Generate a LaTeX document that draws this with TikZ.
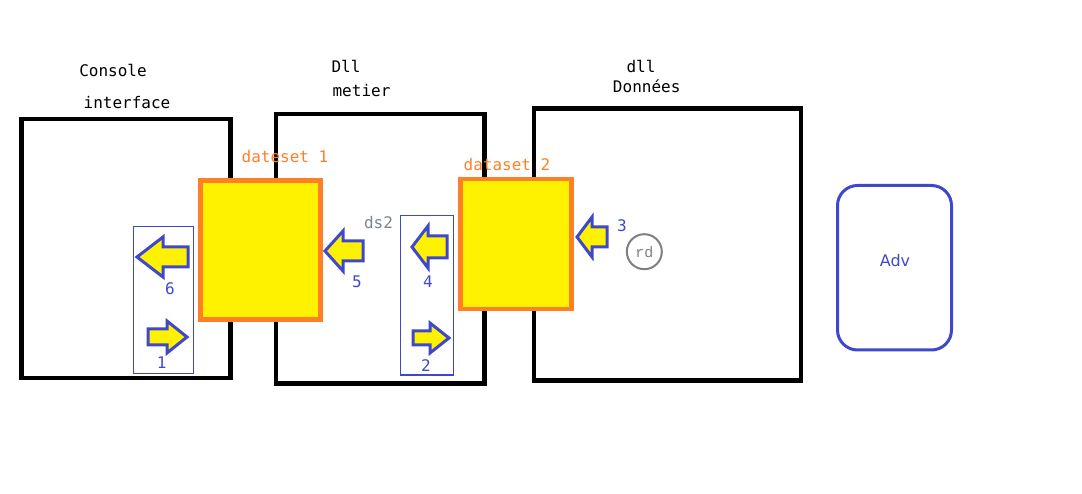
\documentclass[tikz,border=0pt]{standalone}
\usepackage{fontspec}
\setmonofont{DejaVu Sans Mono}
\setsansfont{DejaVu Sans}
\newfontfamily\rdfont{Liberation Mono}
\definecolor{pblue}{HTML}{3F48CC}
\definecolor{porange}{HTML}{FF7F27}
\definecolor{pyellow}{HTML}{FFF200}
\definecolor{pgray}{HTML}{7F7F7F}
\definecolor{dsgray}{HTML}{7A8590}
\tikzset{
  blackbox/.style={draw=black, line width=4.5pt},
  bluebox/.style={draw=pblue, line width=1pt},
  databox/.style={draw=porange, fill=pyellow, line width=4.5pt},
  blockarrow/.style={draw=pblue, fill=pyellow, line width=3pt, line join=miter},
  lbl/.style={font=\fontsize{16}{18}\selectfont\ttfamily, anchor=base, inner sep=0pt},
  numlbl/.style={lbl, text=pblue},
  advbox/.style={draw=pblue, line width=3pt, rounded corners=20pt},
}
% \blockarr{name}{tipx}{headbasex}{tailx}{y}{halfhead}{halfshaft}
\newcommand\blockarr[7]{%
  \draw[blockarrow] (#2,#5) coordinate (#1)
    -- (#3,#5-#6) -- (#3,#5-#7) -- (#4,#5-#7) -- (#4,#5+#7)
    -- (#3,#5+#7) -- (#3,#5+#6) -- cycle;}
\begin{document}
\begin{tikzpicture}[x=1pt,y=-1pt]
\useasboundingbox (0,0) rectangle (1082,494);
% main component boxes
\draw[blackbox] (21.5,119) rectangle (230.5,378) coordinate (console);
\draw[blackbox] (276,114) rectangle (484.5,383.5) coordinate (metier);
\draw[blackbox] (534,108.5) rectangle (801,380.5) coordinate (donnees);
% thin blue groups
\draw[bluebox] (133.3,226.7) rectangle (193.3,374) coordinate (grp1);
\draw[bluebox] (400.7,215.7) rectangle (453.3,375) coordinate (grp2);
% datasets
\draw[databox] (200.5,180.5) rectangle (320.5,319.5) coordinate (ds1box);
\draw[databox] (460.5,179) rectangle (571.5,309) coordinate (ds2box);
% block arrows
\blockarr{a6}{137}{163}{188}{257}{20}{10}
\blockarr{a1}{187}{167}{148}{337}{16}{8}
\blockarr{a5}{325}{343}{363}{251}{20}{10}
\blockarr{a4}{412}{428}{447}{247}{21}{11}
\blockarr{a2}{449}{430}{413}{338}{15}{7}
\blockarr{a3}{577}{592}{607}{237}{20}{10}
% rd circle
\node[draw=pgray, line width=2pt, circle, minimum size=35pt, inner sep=0pt, text=pgray,
      font=\fontsize{15}{17}\selectfont\rdfont] (rd) at (644.3,251.7) {rd};
% Adv
\draw[advbox] (837.5,185.5) rectangle (951.5,350) coordinate (adv);
\node[lbl, font=\fontsize{16}{18}\selectfont\sffamily, text=pblue] (advlbl) at (895,266.7) {Adv};
% titles
\node[lbl] (t1) at (113,77) {Console};
\node[lbl] (t2) at (127,109) {interface};
\node[lbl] (t3) at (346,72.7) {Dll};
\node[lbl] (t4) at (361.5,97) {metier};
\node[lbl] (t5) at (641,73) {dll};
\node[lbl] (t6) at (646.7,93) {Données};
% dataset labels
\node[lbl, text=porange] (l1) at (285,163) {dateset 1};
\node[lbl, text=porange] (l2) at (507,170.7) {dataset 2};
\node[lbl, text=dsgray] (l3) at (378.5,229) {ds2};
% numbers
\node[numlbl] (n6) at (170,295) {6};
\node[numlbl] (n1) at (161.7,368) {1};
\node[numlbl] (n5) at (357,288) {5};
\node[numlbl] (n4) at (428,288) {4};
\node[numlbl] (n2) at (426,371.7) {2};
\node[numlbl] (n3) at (622,231.7) {3};
\end{tikzpicture}
\end{document}
